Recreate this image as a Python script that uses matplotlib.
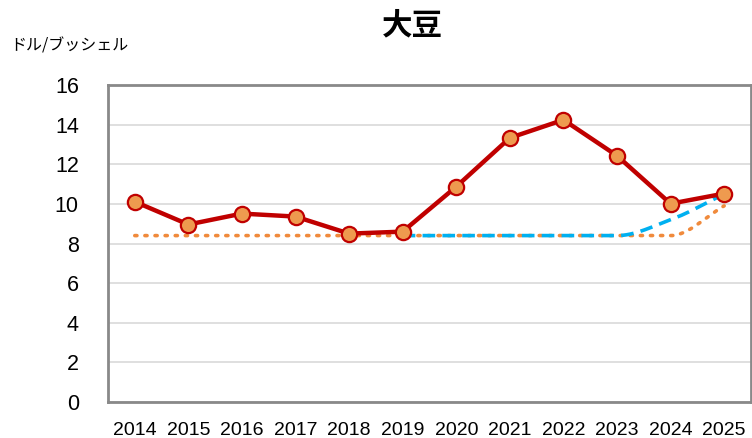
import matplotlib
matplotlib.use("Agg")
import matplotlib.pyplot as plt
from matplotlib import font_manager
import numpy as np

years = ["2014", "2015", "2016", "2017", "2018", "2019", "2020", "2021", "2022", "2023", "2024", "2025"]
price = [10.11, 8.96, 9.51, 9.36, 8.50, 8.60, 10.87, 13.33, 14.24, 12.43, 10.01, 10.52]
baseline_orange = [8.4, 8.4, 8.4, 8.4, 8.4, 8.4, 8.4, 8.4, 8.4, 8.4, 8.4, 9.9]
baseline_blue_years = ["2019", "2020", "2021", "2022", "2023", "2024", "2025"]
baseline_blue = [8.4, 8.4, 8.4, 8.4, 8.4, 9.2, 10.5]
yticks = [0, 2, 4, 6, 8, 10, 12, 14, 16]

names = {f.name for f in font_manager.fontManager.ttflist}
tick_family = 'DejaVu Sans Condensed' if 'DejaVu Sans Condensed' in names else 'Liberation Sans'
plt.rcParams['font.family'] = [tick_family, 'DejaVu Sans', 'Noto Sans CJK JP']
JP = ['Noto Sans CJK JP', 'DejaVu Sans']


def smooth(x, y, n=30):
    # monotone cubic (Fritsch-Carlson) curve through the points, for drawing only
    x = np.asarray(x, float)
    y = np.asarray(y, float)
    h = np.diff(x)
    d = np.diff(y) / h
    m = np.zeros_like(y)
    m[0], m[-1] = d[0], d[-1]
    for i in range(1, len(y) - 1):
        if d[i - 1] * d[i] <= 0:
            m[i] = 0.0
        else:
            m[i] = 2.0 / (1.0 / d[i - 1] + 1.0 / d[i])
    if d[0] == 0:
        m[0] = 0
    if d[-1] == 0:
        m[-1] = 0
    t = np.linspace(0, 1, n)
    xs, ys = [], []
    for i in range(len(y) - 1):
        h00 = 2 * t**3 - 3 * t**2 + 1
        h10 = t**3 - 2 * t**2 + t
        h01 = -2 * t**3 + 3 * t**2
        h11 = t**3 - t**2
        ys.append(h00 * y[i] + h10 * h[i] * m[i] + h01 * y[i + 1] + h11 * h[i] * m[i + 1])
        xs.append(x[i] + t * h[i])
    return np.concatenate(xs), np.concatenate(ys)


fig = plt.figure(figsize=(7.52, 4.38), dpi=100)
ax = fig.add_axes([0.1436, 0.082, 0.8550, 0.724])

xi = np.arange(len(years))
xo, yo = smooth(xi, baseline_orange)
ax.plot(xo, yo, color='#F08A3C', linestyle=(0, (0.6, 2.2)), linewidth=2.6,
        dash_capstyle='round', zorder=3)
xb_idx = [years.index(y) for y in baseline_blue_years]
xb, yb = smooth(xb_idx, baseline_blue)
ax.plot(xb, yb, color='#00B0F0', linestyle=(0, (3.5, 2.0)), linewidth=2.6, zorder=4)
ax.plot(xi, price, color='#C00000', linewidth=3.2, marker='o', markersize=11,
        markerfacecolor='#EE9A4F', markeredgecolor='#C00000', markeredgewidth=1.6, zorder=5)

ax.set_xlim(-0.5, len(years) - 0.5)
ax.set_ylim(0, 16)
ax.set_yticks(yticks)
ax.set_yticklabels([str(v) for v in yticks], fontsize=15.5)
ax.set_xticks(xi)
ax.set_xticklabels(years, fontsize=14)
ax.tick_params(axis='both', length=0)
ax.tick_params(axis='y', pad=21)
ax.tick_params(axis='x', pad=14.5)
ax.grid(axis='y', color='#D9D9D9', linewidth=1.2)
ax.set_axisbelow(True)
for s in ax.spines.values():
    s.set_color('#898989')
    s.set_linewidth(2)

fig.text(0.548, 0.943, '大豆', fontsize=22, fontweight='bold', family=JP,
         ha='center', va='center')
fig.text(0.014, 0.894, 'ドル/ブッシェル', fontsize=11.5, family=JP, ha='left', va='center')

fig.savefig('out.png', dpi=100)
